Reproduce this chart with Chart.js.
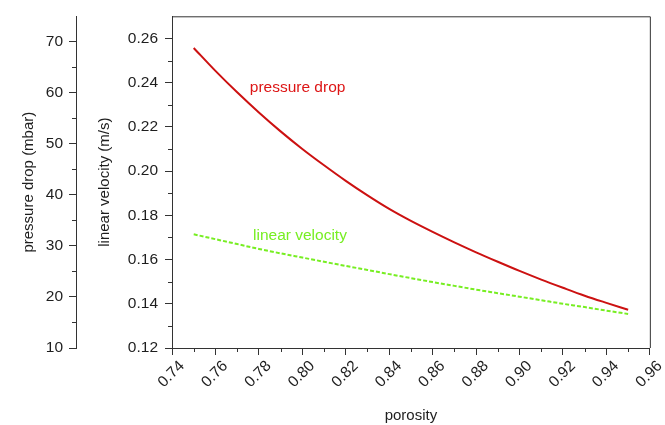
<!DOCTYPE html>
<html lang="en">
<head>
  <meta charset="UTF-8" />
  <title>Pressure drop and linear velocity vs porosity</title>
  <script src="https://cdn.jsdelivr.net/npm/chart.js"></script>
  <style>
    body {
      margin: 0;
      background: #ffffff;
    }
    #chart {
      display: block;
    }
  </style>
</head>
<body>
<canvas id="chart" width="665" height="425"></canvas>

<script>
  // Data
  const porosity = [0.75, 0.76, 0.77, 0.78, 0.79, 0.80, 0.81, 0.82, 0.83, 0.84, 0.85,
                    0.86, 0.87, 0.88, 0.89, 0.90, 0.91, 0.92, 0.93, 0.94, 0.95];
  const pressureDrop = [68.8, 64.3, 60.1, 56.15, 52.45, 49.0, 45.8, 42.75, 39.9, 37.25, 34.9,
                        32.75, 30.7, 28.75, 26.9, 25.1, 23.4, 21.8, 20.25, 18.85, 17.5];
  const linearVelocity = [0.1714, 0.1692, 0.1670, 0.1648, 0.1628, 0.1609, 0.1590, 0.1571,
                          0.1553, 0.1534, 0.1516, 0.1498, 0.1481, 0.1464, 0.1448, 0.1432,
                          0.1416, 0.1400, 0.1385, 0.1369, 0.1354];

  // Tick labels
  const porosityTicks = [0.74, 0.76, 0.78, 0.80, 0.82, 0.84, 0.86, 0.88, 0.90, 0.92, 0.94, 0.96];
  const velocityTicks = [0.12, 0.14, 0.16, 0.18, 0.20, 0.22, 0.24, 0.26];
  const pressureTicks = [10, 20, 30, 40, 50, 60, 70];

  const axisColor = '#333333';
  const textColor = '#1e1e1e';
  const redColor = '#cc1111';
  const greenColor = '#77ee22';
  const fontFamily = "'Liberation Sans', Arial, sans-serif";

  function setTicks(values) {
    return function (scale) {
      scale.ticks = values.map(v => ({ value: v }));
    };
  }

  // minor tick marks half way between the labelled ones, plus the open frame
  const extras = {
    id: 'extras',
    afterDraw(chart) {
      const { ctx, chartArea, scales } = chart;
      ctx.save();
      ctx.strokeStyle = axisColor;
      ctx.lineWidth = 1;
      ctx.beginPath();
      // top and right frame
      ctx.moveTo(chartArea.left, chartArea.top + 0.5);
      ctx.lineTo(chartArea.right + 0.5, chartArea.top + 0.5);
      ctx.lineTo(chartArea.right + 0.5, chartArea.bottom);
      // minor ticks
      const xs = scales.x;
      for (let i = 0; i < xs.ticks.length - 1; i++) {
        const v = (xs.ticks[i].value + xs.ticks[i + 1].value) / 2;
        const px = Math.round(xs.getPixelForValue(v)) + 0.5;
        ctx.moveTo(px, xs.top);
        ctx.lineTo(px, xs.top + 4);
      }
      ['yV', 'yP'].forEach(id => {
        const s = scales[id];
        for (let i = 0; i < s.ticks.length - 1; i++) {
          const v = (s.ticks[i].value + s.ticks[i + 1].value) / 2;
          const py = Math.round(s.getPixelForValue(v)) + 0.5;
          ctx.moveTo(s.right, py);
          ctx.lineTo(s.right - 4, py);
        }
      });
      ctx.stroke();

      // curve labels
      ctx.font = '15.5px ' + fontFamily;
      ctx.textAlign = 'left';
      ctx.textBaseline = 'alphabetic';
      ctx.fillStyle = '#dd1515';
      ctx.fillText('pressure drop', xs.getPixelForValue(0.7758), scales.yP.getPixelForValue(60.2));
      ctx.fillStyle = greenColor;
      ctx.fillText('linear velocity', xs.getPixelForValue(0.7773), scales.yV.getPixelForValue(0.1689));
      ctx.restore();
    }
  };

  const tickFont = { family: fontFamily, size: 15.5 };
  const titleFont = { family: fontFamily, size: 15 };

  new Chart(document.getElementById('chart'), {
    type: 'line',
    data: {
      datasets: [
        {
          label: 'pressure drop',
          data: porosity.map((x, i) => ({ x: x, y: pressureDrop[i] })),
          yAxisID: 'yP',
          borderColor: redColor,
          borderWidth: 2,
          pointRadius: 0,
          cubicInterpolationMode: 'monotone'
        },
        {
          label: 'linear velocity',
          data: porosity.map((x, i) => ({ x: x, y: linearVelocity[i] })),
          yAxisID: 'yV',
          borderColor: greenColor,
          borderWidth: 2,
          borderDash: [4, 2],
          pointRadius: 0,
          cubicInterpolationMode: 'monotone'
        }
      ]
    },
    options: {
      responsive: false,
      animation: false,
      layout: { padding: { left: 0, top: 14, right: 14, bottom: 0 } },
      plugins: {
        legend: { display: false },
        tooltip: { enabled: false }
      },
      scales: {
        x: {
          type: 'linear',
          position: 'bottom',
          min: 0.74,
          max: 0.96,
          afterBuildTicks: setTicks(porosityTicks),
          afterFit: s => { s.height = 77; },
          grid: { drawOnChartArea: false, tickLength: 7, tickColor: axisColor },
          border: { color: axisColor, width: 1 },
          ticks: {
            font: tickFont,
            color: textColor,
            minRotation: 45,
            maxRotation: 45,
            labelOffset: 10,
            padding: 2,
            callback: v => v.toFixed(2)
          },
          title: { display: true, text: 'porosity', font: titleFont, color: textColor, padding: { top: 0, bottom: 0 } }
        },
        yV: {
          type: 'linear',
          position: 'left',
          weight: 0,
          min: 0.12,
          max: 0.27,
          afterBuildTicks: setTicks(velocityTicks),
          afterFit: s => { s.width = 96; },
          grid: { drawOnChartArea: false, tickLength: 7, tickColor: axisColor },
          border: { color: axisColor, width: 1 },
          ticks: { font: tickFont, color: textColor, padding: 7, callback: v => v.toFixed(2) },
          title: { display: true, text: 'linear velocity (m/s)', font: titleFont, color: textColor, padding: { top: 20, bottom: 0 } }
        },
        yP: {
          type: 'linear',
          position: 'left',
          weight: 1,
          min: 10,
          max: 75,
          afterBuildTicks: setTicks(pressureTicks),
          afterFit: s => { s.width = 76; },
          grid: { drawOnChartArea: false, tickLength: 7, tickColor: axisColor },
          border: { color: axisColor, width: 1 },
          ticks: { font: tickFont, color: textColor, padding: 6 },
          title: { display: true, text: 'pressure drop (mbar)', font: titleFont, color: textColor, padding: { top: 20, bottom: 0 } }
        }
      }
    },
    plugins: [extras]
  });
</script>
</body>
</html>
